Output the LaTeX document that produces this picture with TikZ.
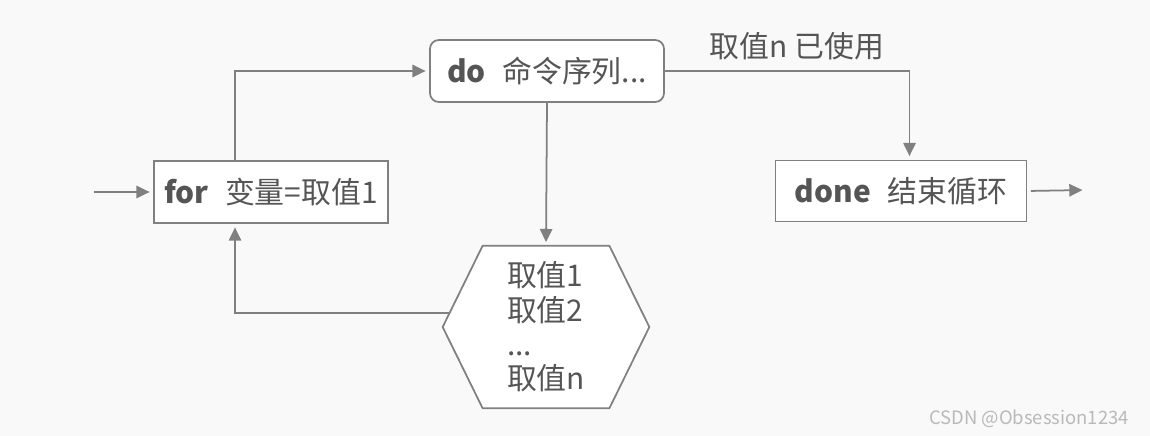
\documentclass[tikz,border=0pt]{standalone}
\usepackage{fontspec}
\setmainfont{Noto Sans CJK SC}
\usetikzlibrary{arrows.meta,backgrounds}
\definecolor{linegray}{RGB}{128,128,128}
\definecolor{textgray}{RGB}{85,85,85}
\definecolor{bggray}{RGB}{249,249,249}

\begin{document}
\begin{tikzpicture}[x=0.02cm,y=-0.02cm,shorten >=2pt]
    \tikzstyle{block}=[rectangle,draw=linegray,line width=1pt,fill=white,text=textgray,font=\fontsize{17}{20}\selectfont,inner sep=0pt,minimum height=1.24cm]
    \tikzstyle{link}=[draw=linegray,line width=1pt,-{Triangle[length=7.5pt,width=7pt]}]
    \useasboundingbox (0,0) rectangle (1150,436);

    \node[block,minimum width=4.68cm] (for) at (271,192) {\textbf{for}\hspace{.55em}变量=取值1};
    \node[block,minimum width=4.68cm,rounded corners=5pt] (do) at (547,71) {\textbf{do}\hspace{.55em}命令序列...};
    \node[block,minimum width=5.02cm,minimum height=1.22cm] (done) at (901,191) {\textbf{done}\hspace{.55em}结束循环};
    \node[text=textgray,font=\fontsize{17}{19.5}\selectfont,align=left,inner sep=0pt,minimum width=4.12cm,minimum height=3.24cm] (vals) at (546,327) {取值1\\取值2\\...\\取值n};

    \begin{scope}[on background layer]
        \fill[bggray] (0,0) rectangle (1150,436);
        \filldraw[fill=white,draw=linegray,line width=1pt] ([xshift=0.8cm]vals.north west) -- ([xshift=-0.8cm]vals.north east) -- (vals.east)
            -- ([xshift=-0.8cm]vals.south east) -- ([xshift=0.8cm]vals.south west) -- (vals.west) -- cycle;
    \end{scope}

    \coordinate (start) at (94,192);
    \coordinate (end) at (1086,190);

    \draw[link] (start) -- (for.west);
    \draw[link] ([xshift=-0.72cm]for.north) |- (do.west);
    \draw[link] (do.south) -- (vals.north);
    \draw[link] (do.east) -| node[pos=0.27,above=6pt,text=textgray,font=\fontsize{17}{20}\selectfont,inner sep=0pt] (used) {取值n 已使用} ([xshift=0.17cm]done.north);
    \draw[link] ([shift={(7,-14)}]vals.west) -| ([xshift=-0.72cm]for.south);
    \draw[link,shorten <=2pt] (done.east) -- (end);

    \node[text=gray!55,font=\fontsize{10.5}{13}\selectfont,anchor=east] (mark) at (1135,419) {CSDN @Obsession1234};
\end{tikzpicture}
\end{document}
